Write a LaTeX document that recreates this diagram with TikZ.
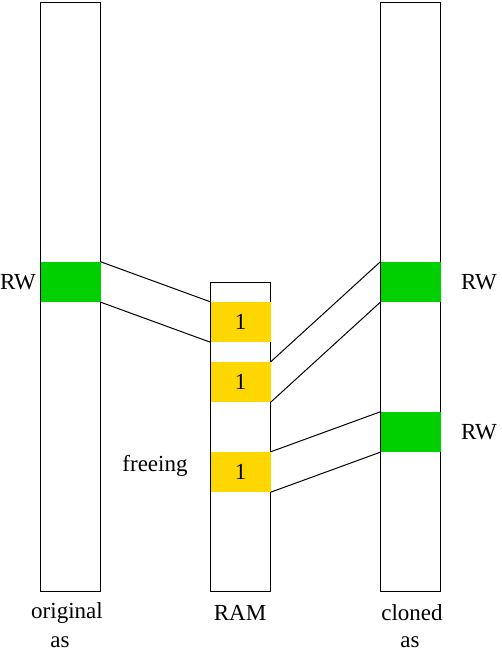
\documentclass[tikz,border=0pt]{standalone}
\usepackage{fontspec}
\setmainfont{Liberation Serif}
\usepackage{xcolor}
\definecolor{rwgreen}{RGB}{0,208,0}
\definecolor{pagegold}{RGB}{255,215,0}

\tikzset{
  column/.style={draw,line width=1pt,minimum width=60pt,inner sep=0pt},
  rwblock/.style={fill=rwgreen,minimum width=60pt,minimum height=40pt,inner sep=0pt},
  pageblock/.style={fill=pagegold,minimum width=60pt,minimum height=40pt,inner sep=0pt},
  label/.style={inner sep=0pt},
  link/.style={line width=1pt}
}

\begin{document}
\begin{tikzpicture}[x=1pt,y=-1pt,font=\fontsize{23}{27}\selectfont]
    \useasboundingbox (0,0) rectangle (501,652);
    % address spaces and memory
    \node [column,minimum height=589pt] (orig) at (70.5,297) {};
    \node [column,minimum height=309pt] (ram) at (240.5,437) {};
    \node [column,minimum height=589pt] (clone) at (410.5,297) {};
    % pages
    \node [rwblock] (origrw) at (70.5,282) {};
    \node [pageblock] (pagea) at (240.5,322) {1};
    \node [pageblock] (pageb) at (240.5,382) {1};
    \node [pageblock] (pagec) at (240.5,472) {1};
    \node [rwblock] (clonerwa) at (410.5,282) {};
    \node [rwblock] (clonerwb) at (410.5,432) {};
    % mappings
    \draw [link] (origrw.north east) -- (pagea.north west);
    \draw [link] (origrw.south east) -- (pagea.south west);
    \draw [link] (pageb.north east) -- (clonerwa.north west);
    \draw [link] (pageb.south east) -- (clonerwa.south west);
    \draw [link] (pagec.north east) -- (clonerwb.north west);
    \draw [link] (pagec.south east) -- (clonerwb.south west);
    % labels
    \node [label] (origlabel) at (18,282) {RW};
    \node [label] (clonelabela) at (479,282) {RW};
    \node [label] (clonelabelb) at (479,432) {RW};
    \node [label] (freeing) at (155,466) {freeing};
    \node [label] (origname) at (67,613) {original};
    \node [label] (origas) at (60,642) {as};
    \node [label] (ramname) at (240,613) {RAM};
    \node [label] (clonename) at (412,613) {cloned};
    \node [label] (cloneas) at (410,642) {as};
\end{tikzpicture}
\end{document}
